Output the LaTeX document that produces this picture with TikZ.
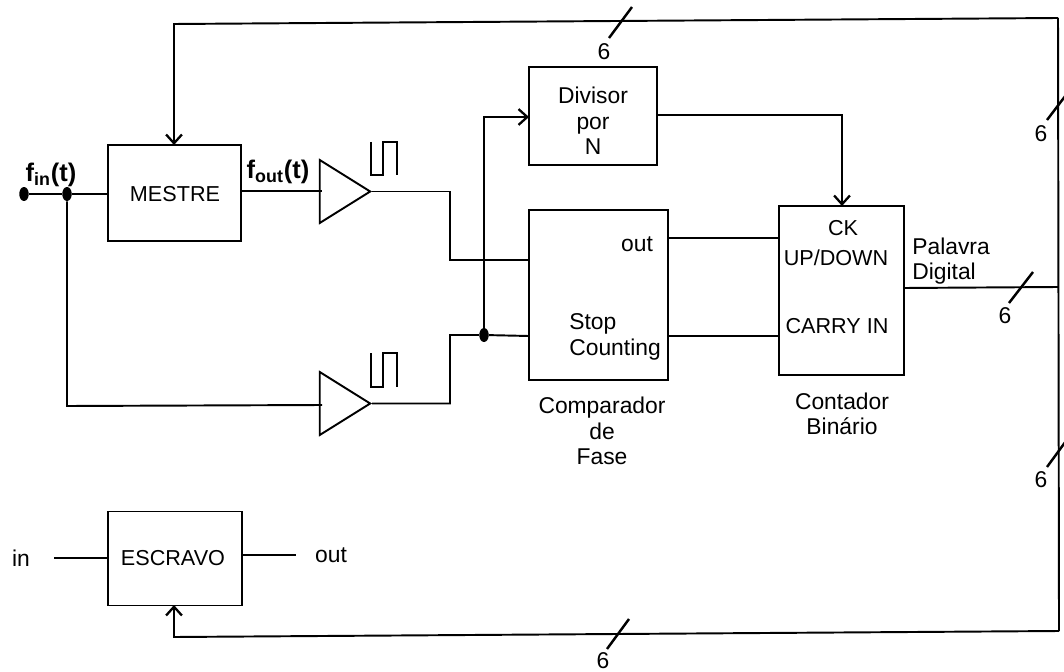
\documentclass[tikz,border=0pt]{standalone}
\usepackage{fontspec}
\setmainfont{Liberation Sans}
\usepackage{xcolor}
\usetikzlibrary{arrows.meta,shapes.geometric}
\tikzset{
  blockbox/.style={draw, line width=1.1pt, inner sep=0pt},
  amp/.style={draw, line width=1.1pt, isosceles triangle, isosceles triangle apex angle=64, minimum width=1.26cm, inner sep=0pt, anchor=apex},
  wire/.style={line width=1.1pt},
  feed/.style={line width=1.1pt, -{Straight Barb[length=5pt,width=9pt,line width=1.3pt]}},
  busmark/.style={line width=1.4pt},
  pulse/.style={line width=1.1pt},
  junction/.style={ellipse, fill=black, inner sep=0pt, minimum width=0.19cm, minimum height=0.28cm},
  lbl/.style={inner sep=0pt, align=center, font=\fontsize{13}{14.5}\selectfont},
  capslbl/.style={inner sep=0pt, align=center, font=\fontsize{12.3}{14}\selectfont},
  freq/.style={inner sep=0pt, font=\fontsize{14.5}{16}\selectfont\bfseries},
}
\begin{document}
\begin{tikzpicture}[x=0.02cm, y=-0.02cm]
\useasboundingbox (0,0) rectangle (1064,672);
% blocks
\node[blockbox, minimum width=2.66cm, minimum height=1.92cm] (mestre) at (174.5,193) {};
\node[capslbl] (mestretxt) at (175,194) {MESTRE};
\node[blockbox, minimum width=2.56cm, minimum height=1.96cm] (divisor) at (593,116) {};
\node[lbl] (divisortxt) at (593,121) {Divisor\\por\\N};
\node[blockbox, minimum width=2.78cm, minimum height=3.4cm] (comparador) at (598.5,295) {};
\node[blockbox, minimum width=2.5cm, minimum height=3.38cm] (contador) at (841.5,290.5) {};
\node[blockbox, minimum width=2.68cm, minimum height=1.88cm] (escravo) at (175,558.5) {};
\node[capslbl] (escravotxt) at (173,558) {ESCRAVO};
% block inner labels
\node[lbl] (outtxt) at (637,244) {out};
\node[lbl, align=left, anchor=west] (stoptxt) at (569,337) {Stop\\Counting};
\node[capslbl] (cktxt) at (843,228) {CK};
\node[capslbl] (updowntxt) at (836,258) {UP/DOWN};
\node[capslbl] (carrytxt) at (837,326) {CARRY IN};
% labels under blocks
\node[lbl] (comptxt) at (602,431) {Comparador\\de\\Fase};
\node[lbl] (conttxt) at (842,414) {Contador\\Binário};
\node[lbl, align=left, anchor=west] (palavratxt) at (912,261) {Palavra\\Digital};
\node[lbl] (intxt) at (21,558) {in};
\node[lbl] (outesc) at (331,555) {out};
\node[freq] (fintxt) at (51,175) {f\textsubscript{in}(t)};
\node[freq] (fouttxt) at (278,172) {f\textsubscript{out}(t)};
% amplifiers
\node[amp] (ampa) at (372,191.5) {};
\node[amp] (ampb) at (372,403.5) {};
% pulses
\draw[pulse] (371,142) -- (371,175) -- (383,175) -- (383,142) -- (397,142) -- (397,175);
\draw[pulse] (371,353) -- (371,387) -- (383,387) -- (383,353) -- (397,353) -- (397,387);
% junction dots
\node[junction] (dotin) at (24,194) {};
\node[junction] (dotsplit) at (67,194) {};
\node[junction] (dotstop) at (484,335) {};
% corners of the wires
\coordinate (bendlow) at (67,406);
\coordinate (ampbin) at (322,405);
\coordinate (mestrein) at (108,194);
\coordinate (mestreout) at (241,191);
\coordinate (ampain) at (322,191);
\coordinate (cmpa) at (529,260);
\coordinate (cmpb) at (529,336);
\coordinate (outa) at (668,238);
\coordinate (cka) at (779,238);
\coordinate (outb) at (668,336);
\coordinate (ckb) at (779,336);
\coordinate (divin) at (529,117);
\coordinate (divout) at (657,115);
\coordinate (ckin) at (842,206);
\coordinate (wordout) at (904,288);
\coordinate (busword) at (1058,287);
\coordinate (bustopleft) at (174,24);
\coordinate (bustopright) at (1058,18);
\coordinate (busbotleft) at (174,637);
\coordinate (busbotright) at (1059,631);
\coordinate (mestretop) at (174,145);
\coordinate (escravobot) at (174,605);
\coordinate (ein) at (54,558);
\coordinate (einb) at (108,558);
\coordinate (eout) at (242,555);
\coordinate (eoutb) at (296,555);
% signal path
\draw[wire] (dotin) -- (dotsplit) -- (mestrein);
\draw[wire] (dotsplit) -- (bendlow) -- (ampbin);
\draw[wire] (mestreout) -- (ampain);
\draw[wire] (ampa.apex) -- (450,191.5) |- (cmpa);
\draw[wire] (ampb.apex) -- (450,403.5) |- (dotstop) -- (cmpb);
\draw[feed] (dotstop) |- (divin);
\draw[feed] (divout) -| (ckin);
\draw[wire] (outa) -- (cka);
\draw[wire] (outb) -- (ckb);
% digital word bus
\draw[wire] (wordout) -- (busword);
\draw[feed] (bustopright) -- (bustopleft) -- (mestretop);
\draw[wire] (bustopright) -- (busbotright);
\draw[feed] (busbotright) -- (busbotleft) -- (escravobot);
% escravo leads
\draw[wire] (ein) -- (einb);
\draw[wire] (eout) -- (eoutb);
% bus width marks
\draw[busmark] (609,38) -- (632,7);
\node[lbl] (sixa) at (604,52) {6};
\draw[busmark] (1047,120) -- (1066,95);
\node[lbl] (sixb) at (1041,134) {6};
\draw[busmark] (1009,303) -- (1033,272);
\node[lbl] (sixc) at (1005,316) {6};
\draw[busmark] (1047,467) -- (1066,441);
\node[lbl] (sixd) at (1041,480) {6};
\draw[busmark] (607,649) -- (629,619);
\node[lbl] (sixe) at (603,661) {6};
\end{tikzpicture}
\end{document}
